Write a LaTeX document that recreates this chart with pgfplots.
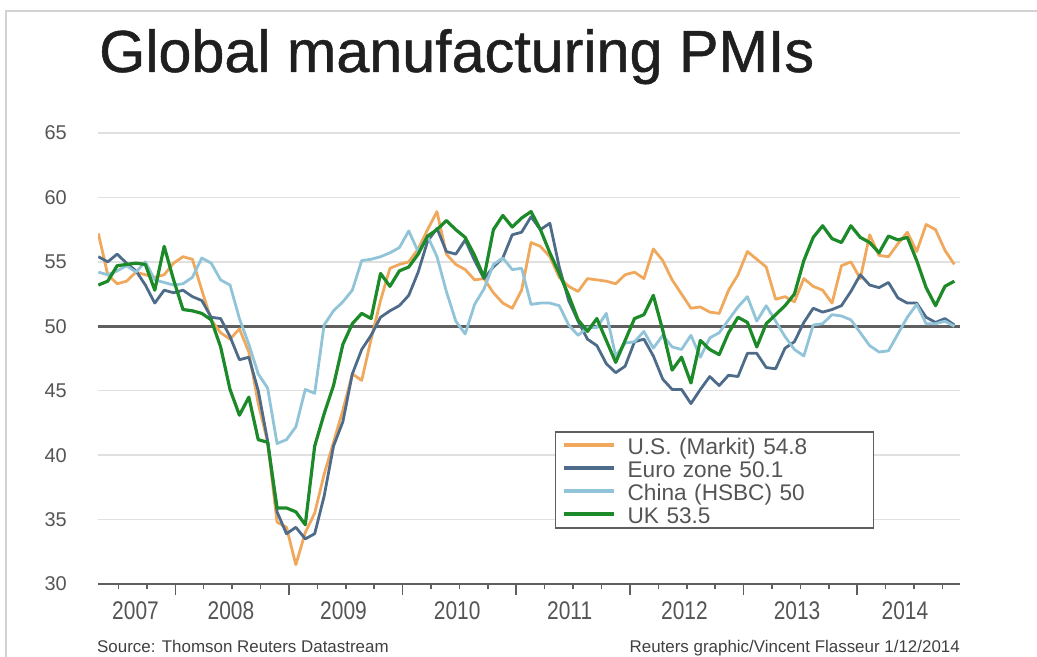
\documentclass[border=0pt]{standalone}
\usepackage{fontspec}
\setmainfont{Liberation Sans}
\newfontfamily\titlefont{Liberation Sans}[FakeBold=0.8]
\usepackage{pgfplots}
\usepackage{pgfplotstable}
\pgfplotsset{compat=1.18}
\definecolor{usc}{RGB}{240,168,92}
\definecolor{euc}{RGB}{78,108,138}
\definecolor{cnc}{RGB}{145,196,216}
\definecolor{ukc}{RGB}{28,138,40}
\definecolor{gridc}{RGB}{224,224,224}
\definecolor{axc}{RGB}{95,95,95}
\definecolor{txtc}{RGB}{85,85,85}

% j = month index, 0 = Apr 2007 ... 91 = Nov 2014
\pgfplotstableread{
j us eu cn uk
0 57.2 55.4 54.2 53.2
1 54.0 55.0 54.0 53.5
2 53.3 55.6 54.3 54.7
3 53.5 54.9 54.7 54.8
4 54.2 54.3 54.2 54.9
5 54.0 53.2 55.0 54.8
6 53.8 51.8 53.6 52.8
7 54.0 52.8 53.4 56.2
8 54.9 52.6 53.2 53.6
9 55.4 52.8 53.3 51.3
10 55.2 52.3 53.8 51.2
11 52.8 52.0 55.3 51.0
12 50.5 50.7 54.9 50.5
13 49.5 50.6 53.6 48.4
14 49.0 49.2 53.2 45.1
15 49.8 47.4 50.6 43.1
16 48.0 47.6 48.6 44.5
17 44.0 45.0 46.3 41.2
18 41.0 41.1 45.2 41.0
19 34.8 35.6 40.9 35.9
20 34.4 33.9 41.2 35.9
21 31.5 34.4 42.2 35.6
22 34.0 33.5 45.1 34.6
23 35.5 33.9 44.8 40.7
24 38.5 36.8 50.1 43.2
25 41.0 40.7 51.2 45.4
26 43.5 42.6 51.9 48.6
27 46.3 46.3 52.8 50.2
28 45.8 48.2 55.1 51.0
29 49.0 49.3 55.2 50.6
30 52.0 50.7 55.4 54.1
31 54.5 51.2 55.7 53.1
32 54.8 51.6 56.1 54.3
33 55.0 52.4 57.4 54.6
34 56.0 54.2 55.8 55.6
35 57.5 56.6 57.0 57.0
36 58.9 57.6 55.4 57.5
37 55.6 55.8 52.7 58.2
38 54.8 55.6 50.4 57.5
39 54.4 56.7 49.4 56.9
40 53.6 55.1 51.7 55.5
41 53.7 53.7 52.9 53.8
42 52.6 54.6 54.8 57.5
43 51.8 55.3 55.3 58.6
44 51.4 57.1 54.4 57.7
45 52.8 57.3 54.5 58.4
46 56.5 58.5 51.7 58.9
47 56.2 57.5 51.8 57.5
48 55.4 58.0 51.8 55.7
49 53.8 54.6 51.6 54.1
50 53.1 52.0 50.1 52.4
51 52.7 50.4 49.3 50.5
52 53.7 49.0 49.9 49.6
53 53.6 48.5 49.9 50.6
54 53.5 47.1 51.0 48.9
55 53.3 46.4 47.7 47.2
56 54.0 46.9 48.7 48.9
57 54.2 48.8 48.8 50.6
58 53.7 49.0 49.6 50.9
59 56.0 47.7 48.3 52.4
60 55.1 45.9 49.3 49.7
61 53.6 45.1 48.4 46.6
62 52.5 45.1 48.2 47.6
63 51.4 44.0 49.3 45.6
64 51.5 45.1 47.6 48.9
65 51.1 46.1 49.1 48.2
66 51.0 45.4 49.5 47.8
67 52.8 46.2 50.5 49.5
68 54.0 46.1 51.5 50.7
69 55.8 47.9 52.3 50.3
70 55.2 47.9 50.4 48.4
71 54.6 46.8 51.6 50.2
72 52.1 46.7 50.4 50.9
73 52.3 48.3 49.2 51.6
74 51.9 48.8 48.2 52.5
75 53.7 50.3 47.7 55.1
76 53.1 51.4 50.1 56.9
77 52.8 51.1 50.2 57.8
78 51.8 51.3 50.9 56.8
79 54.7 51.6 50.8 56.5
80 55.0 52.7 50.5 57.8
81 53.7 54.0 49.5 56.9
82 57.1 53.2 48.5 56.5
83 55.5 53.0 48.0 55.7
84 55.4 53.4 48.1 57.0
85 56.4 52.2 49.4 56.7
86 57.3 51.8 50.7 56.9
87 55.8 51.8 51.7 55.1
88 57.9 50.7 50.2 53.0
89 57.5 50.3 50.2 51.6
90 55.9 50.6 50.4 53.1
91 54.8 50.1 50.0 53.5
}\pmi

\begin{document}
\begin{tikzpicture}
\path[use as bounding box] (0bp,0bp) rectangle (1037bp,657bp);
\draw[gray!35, line width=2bp] (6bp,0bp) -- (6bp,646bp) -- (1037bp,646bp);
\node[anchor=base west, inner sep=0pt, font=\titlefont\fontsize{59.5}{60}\selectfont, text=black!88] at (99bp,585bp) {Global manufacturing PMIs};
\node[anchor=base west, inner sep=0pt, font=\fontsize{17}{17}\selectfont, text=black!75] at (97bp,5bp) {Source: Thomson Reuters Datastream};
\node[anchor=base east, inner sep=0pt, font=\fontsize{17}{17}\selectfont, text=black!75] at (960bp,5bp) {Reuters graphic/Vincent Flasseur 1/12/2014};
\begin{axis}[
  at={(98bp,73bp)}, anchor=south west,
  scale only axis, width=862bp, height=451bp,
  xmin=2007.32, xmax=2014.904, ymin=30, ymax=65,
  axis x line*=bottom, axis y line*=left,
  y axis line style={draw=none},
  x axis line style={axc, line width=1.8bp},
  ytick={30,35,...,65},
  ytick style={draw=none},
  ymajorgrids, major grid style={gridc, line width=1.5bp},
  yticklabel style={font=\fontsize{20}{20}\selectfont, text=txtc, inner sep=0pt, xshift=-20bp},
  /pgf/number format/assume math mode=true,
  tick align=outside,
  xtick={2008,2009,...,2014}, xticklabels={},
  major tick length=11bp, minor tick length=5.5bp,
  xtick style={axc, line width=1.5bp},
  minor xtick={2007.5,2007.75,2008.25,2008.5,2008.75,2009.25,2009.5,2009.75,2010.25,2010.5,2010.75,2011.25,2011.5,2011.75,2012.25,2012.5,2012.75,2013.25,2013.5,2013.75,2014.25,2014.5,2014.75},
  extra x ticks={2007.65,2008.49,2009.48,2010.48,2011.47,2012.48,2013.47,2014.42},
  extra x tick labels={\scalebox{1}[1.22]{2007},\scalebox{1}[1.22]{2008},\scalebox{1}[1.22]{2009},\scalebox{1}[1.22]{2010},\scalebox{1}[1.22]{2011},\scalebox{1}[1.22]{2012},\scalebox{1}[1.22]{2013},\scalebox{1}[1.22]{2014}},
  extra x tick style={major tick length=0pt, xticklabel style={font=\fontsize{21}{21}\selectfont, text=txtc, inner sep=0pt, anchor=north, yshift=-17bp}},
  legend style={at={(0.530,0.339)}, anchor=north west, draw=axc, line width=1.5bp, fill=white,
    font=\fontsize{22.7}{22}\selectfont, text=txtc, inner xsep=6bp, inner ysep=2bp, row sep=0pt,
    nodes={inner xsep=12bp, inner ysep=0bp, text height=21bp, text depth=2bp, text width=228bp, align=left}},
  legend cell align=left,
  legend image code/.code={\draw[#1, line width=4bp] (0bp,0bp) -- (50bp,0bp);},
]
\draw[axc, line width=2.5bp] (axis cs:2007.32,50) -- (axis cs:2014.904,50);
\addplot[usc, line width=2.8bp, no marks, line join=round] table[x expr=2007.323+\thisrow{j}*0.08276, y=us] {\pmi};
\addlegendentry{U.S. (Markit) 54.8}
\addplot[euc, line width=2.8bp, no marks, line join=round] table[x expr=2007.323+\thisrow{j}*0.08276, y=eu] {\pmi};
\addlegendentry{Euro zone 50.1}
\addplot[cnc, line width=2.8bp, no marks, line join=round] table[x expr=2007.323+\thisrow{j}*0.08276, y=cn] {\pmi};
\addlegendentry{China (HSBC) 50}
\addplot[ukc, line width=3.2bp, no marks, line join=round] table[x expr=2007.323+\thisrow{j}*0.08276, y=uk] {\pmi};
\addlegendentry{UK 53.5}
\end{axis}
\end{tikzpicture}
\end{document}
